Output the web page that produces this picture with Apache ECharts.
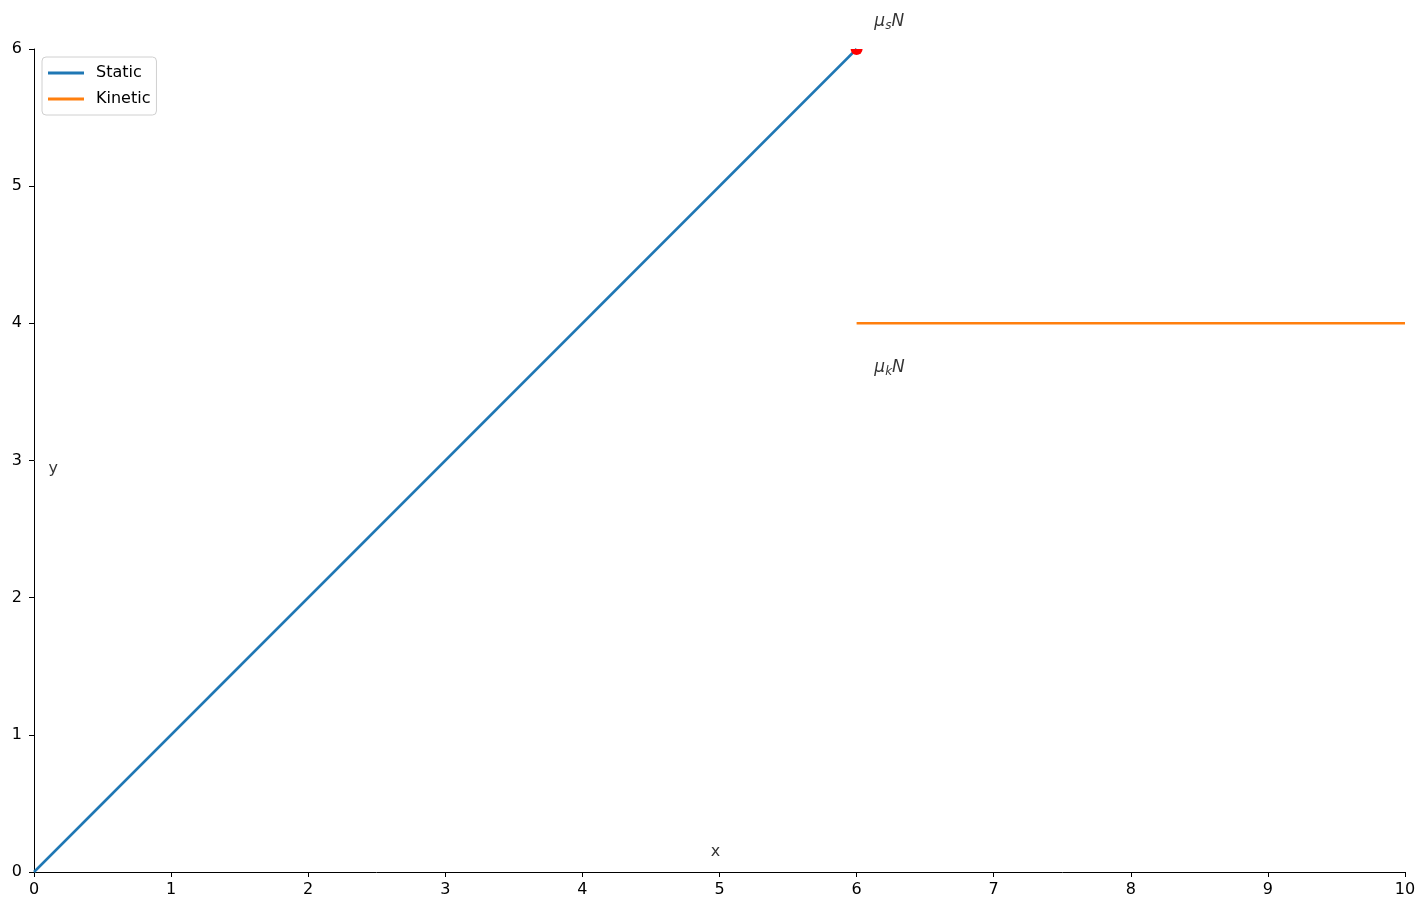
<!DOCTYPE html>
<html>
<head>
<meta charset="utf-8">
<script src="https://cdn.jsdelivr.net/npm/echarts@6/dist/echarts.min.js"></script>
<style>
html,body{margin:0;padding:0;background:#fff;}
#c{width:1428px;height:914px;}
</style>
</head>
<body>
<div id="c"></div>
<script>
// ---- data ----
const staticX = [0, 6];
const staticY = [0, 6];
const kineticX = [6, 10];
const kineticY = [4, 4];
const peakPoint = [6, 6];
const xTicks = [0, 1, 2, 3, 4, 5, 6, 7, 8, 9, 10];
const yTicks = [0, 1, 2, 3, 4, 5, 6];
// annotation anchors in data coordinates
const muSLabelAt = [6.1, 6.2];
const muKLabelAt = [6.1, 3.68];
const xLabelAt = [4.97, 0.15];
const yLabelAt = [0.14, 2.94];

const FONT = 'DejaVu Sans';
const chart = echarts.init(document.getElementById('c'), null, {renderer: 'canvas'});

const zip = (xs, ys) => xs.map((x, i) => [x, ys[i]]);

const muRich = {
  i: {fontFamily: FONT, fontStyle: 'italic', fontSize: 17, color: '#000'},
  s: {fontFamily: FONT, fontStyle: 'italic', fontSize: 12, color: '#000', padding: [9, 0, 0, 0]}
};

const textSeries = (name, pt, label) => ({
  type: 'scatter', name: name, data: [pt], symbolSize: 0, silent: true, clip: false,
  label: Object.assign({show: true, color: '#000', fontFamily: FONT, fontSize: 16}, label),
  z: 10
});

const option = {
  backgroundColor: '#fff',
  animation: false,
  grid: {left: 34, right: 23, top: 49, bottom: 42, containLabel: false},
  legend: {
    orient: 'vertical', left: 42, top: 57,
    data: ['Static', 'Kinetic'],
    icon: 'rect', itemWidth: 36, itemHeight: 3, itemGap: 10,
    padding: [8, 6, 8, 6],
    borderColor: '#d0d0d0', borderWidth: 1, borderRadius: 4,
    backgroundColor: 'rgba(255,255,255,0.8)',
    textStyle: {fontFamily: FONT, fontSize: 16, color: '#000', padding: [0, 0, 0, 7]}
  },
  xAxis: {
    type: 'value', min: xTicks[0], max: xTicks[xTicks.length - 1], interval: 1,
    axisLine: {show: true, onZero: false, lineStyle: {color: '#000', width: 1}},
    axisTick: {show: true, inside: false, length: 5, lineStyle: {color: '#000'}},
    axisLabel: {fontFamily: FONT, fontSize: 16, color: '#000', margin: 10},
    splitLine: {show: false}
  },
  yAxis: {
    type: 'value', min: yTicks[0], max: yTicks[yTicks.length - 1], interval: 1,
    axisLine: {show: true, onZero: false, lineStyle: {color: '#000', width: 1}},
    axisTick: {show: true, inside: false, length: 5, lineStyle: {color: '#000'}},
    axisLabel: {fontFamily: FONT, fontSize: 16, color: '#000', margin: 12},
    splitLine: {show: false}
  },
  series: [
    {
      type: 'line', name: 'Static', data: zip(staticX, staticY),
      symbol: 'none', lineStyle: {color: '#1f77b4', width: 2.5}, itemStyle: {color: '#1f77b4'}, z: 3
    },
    {
      type: 'line', name: 'Kinetic', data: zip(kineticX, kineticY),
      symbol: 'none', lineStyle: {color: '#ff7f0e', width: 2.5}, itemStyle: {color: '#ff7f0e'}, z: 3
    },
    {
      type: 'custom', name: 'peak', data: [peakPoint], silent: true, z: 4,
      renderItem: function (params, api) {
        const p = api.coord([api.value(0), api.value(1)]);
        const cs = params.coordSys;
        return {
          type: 'circle',
          shape: {cx: p[0], cy: p[1], r: 6},
          style: {fill: '#ff0000'},
          clipPath: {type: 'rect', shape: {x: cs.x, y: cs.y, width: cs.width, height: cs.height}}
        };
      }
    },
    textSeries('muS', muSLabelAt, {position: 'right', distance: 4, formatter: '{i|μ}{s|s}{i|N}', rich: muRich}),
    textSeries('muK', muKLabelAt, {position: 'right', distance: 4, formatter: '{i|μ}{s|k}{i|N}', rich: muRich}),
    textSeries('xlab', xLabelAt, {position: 'inside', formatter: 'x'}),
    textSeries('ylab', yLabelAt, {position: 'inside', formatter: 'y'})
  ]
};
chart.setOption(option);
</script>
</body>
</html>
